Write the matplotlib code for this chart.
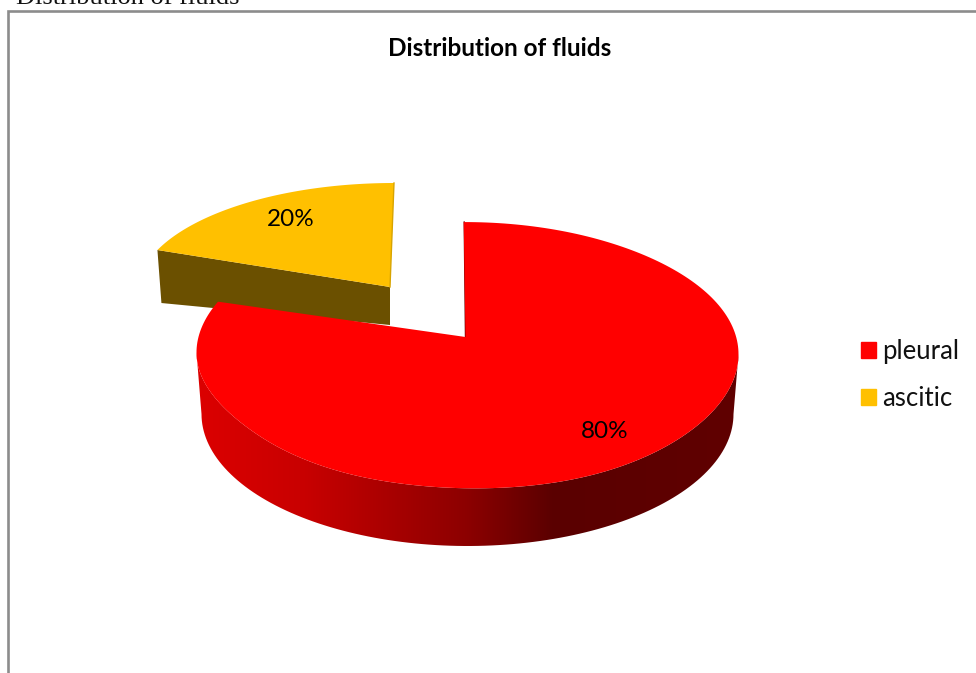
import matplotlib
matplotlib.use("Agg")
import matplotlib.pyplot as plt
import matplotlib.patches as mpatches
import matplotlib.colors as mcolors
import numpy as np

# dados do grafico
categorias = ["pleural", "ascitic"]
valores = [80, 20]
cores = ["#FF0000", "#FFC000"]
titulo = "Distribution of fluids"

# perspectiva do "pie 3D" do excel
SKEW = 5
START = -0.8
CX, CY, RX, RY = 467.5, 354, 271, 132      # topo da fatia vermelha
BX, BY, BRX, BRY = 467.5, 414, 266, 132    # base da fatia vermelha
APEX = (465.5, 337)
YX, YY, YRX, YRY = 394, 293, 257, 110      # topo da fatia amarela
Y_APEX = (390, 287)
Y_DEPTH = 53

# ajuste fino do contorno do topo (a perspectiva nao e uma elipse perfeita)
AJUSTE_T = [0, 45, 90, 118, 146, 160, 180, 216, 231, 244, 258, 270, 360]
AJUSTE_Y = [0, 1.5, 0, 1, 4, 4, 2, 1, -3, -6, -3, -1, 0]

# suaviza o ajuste para nao aparecer quina no contorno
grade = np.arange(0, 360)
ajuste = np.interp(grade, AJUSTE_T, AJUSTE_Y)
ajuste = np.convolve(np.r_[ajuste, ajuste, ajuste], np.ones(31) / 31, "same")[360:720]


def elipse(cx, cy, rx, ry, t):
    t = np.radians(t)
    return np.column_stack([cx + rx * np.sin(t), cy - ry * np.cos(t)])


def topo(t):
    pts = elipse(CX, CY, RX, RY, t)
    pts[:, 1] += np.interp(np.mod(t, 360), grade, ajuste)
    return pts


fig = plt.figure(figsize=(9.76, 6.73), dpi=100)
ax = fig.add_axes([0, 0, 1, 1])
ax.set_axis_off()

# angulo onde as duas fatias se encontram
borda = 360 * valores[0] / sum(valores) + SKEW

# fatia amarela, parede e topo
arco_y = elipse(YX, YY, YRX, YRY, np.linspace(borda, 360, 80))
esq = arco_y[0]
parede = [esq, Y_APEX, (Y_APEX[0], Y_APEX[1] + 38), (esq[0] + 4, esq[1] + Y_DEPTH)]
ax.add_patch(mpatches.Polygon(parede, closed=True, fc="#6B5000", ec="none", zorder=2))
ax.add_patch(mpatches.Polygon(np.vstack([arco_y, Y_APEX]), closed=True,
                              fc=cores[1], ec="none", zorder=3))
ax.plot([arco_y[-1][0], Y_APEX[0]], [arco_y[-1][1], Y_APEX[1]],
        color="#D8A400", lw=1, zorder=3)

# parede da frente da fatia vermelha com degrade
cmap = mcolors.LinearSegmentedColormap.from_list(
    "parede", [(0, "#DC0000"), (0.2, "#C80000"), (0.5, "#8C0000"),
               (0.66, "#5A0000"), (1, "#600000")])
frente_t = np.linspace(90, 270, 120)
frente = np.vstack([topo(frente_t),
                    elipse(BX, BY, BRX, BRY, frente_t[::-1])])
poly = mpatches.Polygon(frente, closed=True, fc="none", ec="none", zorder=1,
                        transform=ax.transData)
ax.add_patch(poly)
im = ax.imshow(np.linspace(0, 1, 256).reshape(1, -1), cmap=cmap, aspect="auto",
               extent=[196, 739, 560, 340], zorder=4)
im.set_clip_path(poly)

# topo da fatia vermelha
arco_r = topo(np.linspace(START, borda, 240))
ax.add_patch(mpatches.Polygon(np.vstack([arco_r, APEX]), closed=True,
                              fc=cores[0], ec="none", zorder=5))
ax.plot([arco_r[0][0] + 0.5, APEX[0]], [arco_r[0][1], APEX[1]],
        color="#6A0000", lw=1, zorder=4)

ax.set_xlim(0, 976)
ax.set_ylim(673, 0)

# moldura cinza do grafico e legenda do documento
ax.plot([8, 8, 976], [673, 10.5, 10.5], color="#8C8C8C", lw=1.9,
        solid_joinstyle="miter", zorder=6)
ax.text(16, 4.5, titulo, family="Liberation Serif", fontsize=19,
        color="#111111", ha="left", va="baseline", zorder=6)

ax.text(499.5, 48.5, titulo, family="Lato", fontsize=17.5, fontweight="bold",
        color="black", ha="center", va="center", zorder=6)

ax.text(291, 220, f"{valores[1]}%", family="Lato", fontsize=17.5,
        ha="center", va="center", zorder=6)
ax.text(605, 432, f"{valores[0]}%", family="Lato", fontsize=17.5,
        ha="center", va="center", zorder=6)

handles = [mpatches.Patch(color=c, label=n) for n, c in zip(categorias, cores)]
ax.legend(handles=handles, loc="center left", bbox_to_anchor=(861, 375),
          bbox_transform=ax.transData, frameon=False, borderpad=0, borderaxespad=0,
          prop={"family": "Lato", "size": 18.5}, handlelength=0.58, handleheight=0.58,
          handletextpad=0.24, labelspacing=0.88, labelcolor="#111111")

fig.savefig("out.png", dpi=100, facecolor="white")
